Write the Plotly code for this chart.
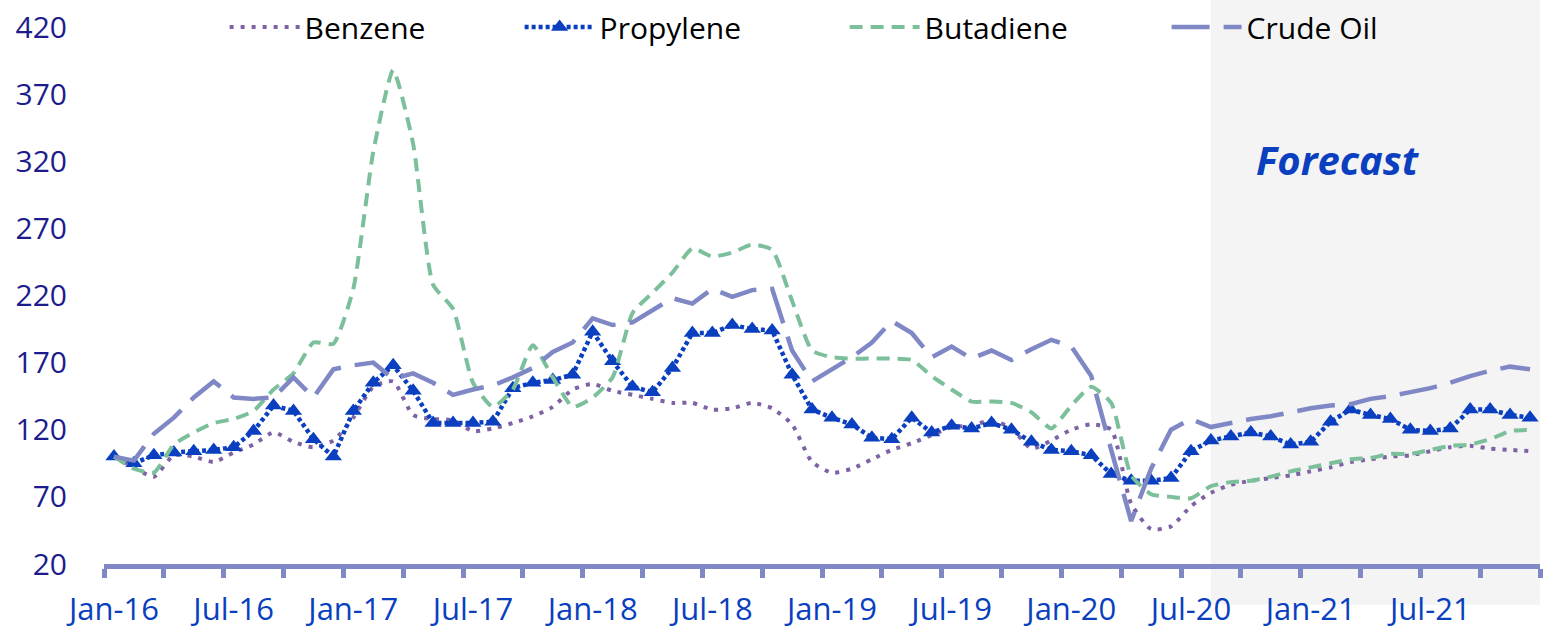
import plotly.graph_objects as go

months = [f"{m}-{y}" for y in ["16", "17", "18", "19", "20", "21"]
          for m in ["Jan", "Feb", "Mar", "Apr", "May", "Jun",
                    "Jul", "Aug", "Sep", "Oct", "Nov", "Dec"]]

benzene = [100, 92, 85, 101, 100, 96, 103, 109, 118, 111, 107, 112,
           129, 152, 156, 131, 128, 127, 119, 121, 125, 130, 137, 150,
           154, 149, 146, 143, 140, 140, 135, 136, 140, 136, 124, 96,
           88, 91, 98, 105, 110, 116, 122, 123, 127, 121, 106, 112,
           120, 124, 120, 65, 46, 48, 63, 73, 79, 82, 84, 86,
           89, 92, 96, 98, 100, 101, 104, 107, 108, 106, 105, 104]

propylene = [100, 95, 101, 103, 104, 105, 107, 119, 138, 134, 113, 100,
             134, 155, 168, 149, 125, 125, 125, 126, 151, 155, 157, 161,
             193, 171, 152, 148, 166, 192, 192, 198, 195, 194, 161, 135,
             129, 124, 114, 113, 129, 118, 123, 121, 125, 120, 111, 105,
             104, 101, 87, 82, 82, 84, 104, 112, 115, 118, 115, 109,
             111, 126, 135, 131, 128, 120, 119, 121, 135, 135, 131, 129]

butadiene = [100, 91, 88, 109, 118, 125, 128, 134, 150, 162, 185, 184,
             225, 327, 388, 333, 228, 210, 155, 137, 150, 183, 159, 137,
             144, 159, 207, 222, 237, 255, 249, 252, 258, 254, 216, 179,
             174, 173, 173, 173, 172, 160, 150, 141, 141, 140, 133, 121,
             138, 152, 140, 86, 72, 70, 69, 78, 81, 82, 85, 89,
             92, 95, 98, 99, 102, 102, 105, 108, 109, 113, 119, 120]

crude_oil = [100, 97, 117, 129, 144, 156, 144, 143, 144, 159, 144, 165,
             168, 170, 158, 162, 155, 146, 150, 153, 159, 166, 178, 185,
             203, 198, 200, 209, 218, 214, 225, 219, 224, 225, 179, 156,
             165, 174, 185, 201, 192, 174, 182, 173, 179, 172, 180, 187,
             182, 160, 105, 52, 91, 120, 128, 122, 125, 128, 130, 133,
             136, 138, 139, 143, 145, 148, 151, 155, 160, 164, 167, 165]

y_ticks = [20, 70, 120, 170, 220, 270, 320, 370, 420]
forecast_start = "Aug-20"

x = list(range(len(months)))
font_family = "Open Sans, Lato, sans-serif"

fig = go.Figure()

fig.add_trace(go.Scatter(
    x=x, y=benzene, name="Benzene", mode="lines", legendwidth=210,
    line=dict(color="#7E62A6", width=4, dash="4px,7px", shape="spline", smoothing=0.6)))
fig.add_trace(go.Scatter(
    x=x, y=propylene, name="Propylene", mode="lines+markers", legendwidth=240,
    line=dict(color="#0A3FC0", width=4.5, dash="4px,3px"),
    marker=dict(symbol="triangle-up", size=15, color="#0A3FC0")))
fig.add_trace(go.Scatter(
    x=x, y=butadiene, name="Butadiene", mode="lines", legendwidth=237,
    line=dict(color="#7BBF9B", width=4, dash="13px,8px", shape="spline", smoothing=0.5)))
fig.add_trace(go.Scatter(
    x=x, y=crude_oil, name="Crude Oil", mode="lines", legendwidth=180,
    line=dict(color="#7F87C5", width=4.5, dash="38px,14px")))

fs = months.index(forecast_start)
fig.add_shape(type="rect", xref="x", yref="paper",
              x0=fs, x1=len(months) - 0.5, y0=-0.076, y1=1.06,
              fillcolor="#F4F4F4", line=dict(width=0), layer="below")

fig.add_annotation(x=61.35, y=321, xref="x", yref="y", text="<b><i>Forecast</i></b>",
                   showarrow=False, font=dict(family=font_family, size=40, color="#0A3FC0"))

fig.update_layout(
    width=1544, height=630,
    margin=dict(l=104, r=4, t=27, b=66, autoexpand=False),
    paper_bgcolor="white", plot_bgcolor="rgba(0,0,0,0)",
    font=dict(family=font_family),
    showlegend=True,
    legend=dict(orientation="h", x=0.084, y=1.0, xanchor="left", yanchor="middle",
                bgcolor="rgba(0,0,0,0)", font=dict(size=30, color="black"),
                entrywidthmode="pixels", itemwidth=70),
)

fig.update_xaxes(
    range=[-0.5, len(months) - 0.5],
    tickmode="array", tickvals=x[::6], ticktext=months[::6],
    ticks="", showgrid=False, zeroline=False,
    showline=True, linecolor="#8089C6", linewidth=5,
    ticklabelstandoff=14, ticklabeloverflow="allow",
    tickfont=dict(size=31, color="#0A3FC0"),
    minor=dict(tick0=-0.5, dtick=3, ticks="outside", ticklen=9, tickwidth=5,
               tickcolor="#8089C6", showgrid=False),
)
fig.update_yaxes(
    range=[20, 420], tickmode="array", tickvals=y_ticks,
    showgrid=False, zeroline=False, showline=False, ticks="",
    ticklabelstandoff=36, ticklabeloverflow="allow",
    tickfont=dict(size=30, color="#1C1C8C"),
)

fig.write_html("out.html",
               config={"displayModeBar": False},
               post_script="document.body.style.margin='0';document.body.style.overflow='hidden';")
